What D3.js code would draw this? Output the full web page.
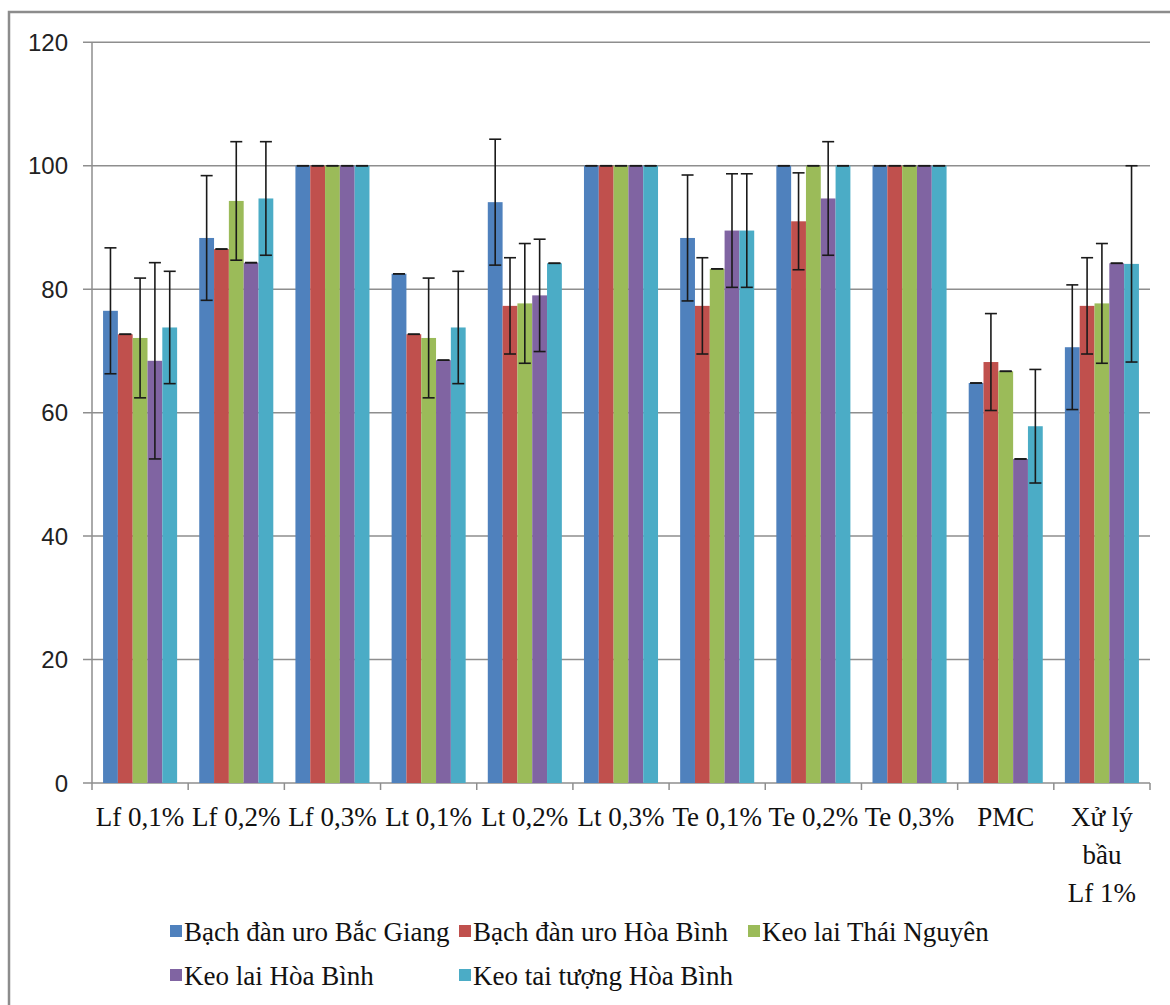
<!DOCTYPE html>
<html>
<head>
<meta charset="utf-8">
<script src="https://cdn.jsdelivr.net/npm/d3@7"></script>
<style>
  body { margin: 0; background: #fff; }
  svg { display: block; }
</style>
</head>
<body>
<svg id="chart" width="1170" height="1005"></svg>
<script>
// categories (x axis), multi-line labels split by "|"
const categories = ["Lf 0,1%", "Lf 0,2%", "Lf 0,3%", "Lt 0,1%", "Lt 0,2%", "Lt 0,3%",
    "Te 0,1%", "Te 0,2%", "Te 0,3%", "PMC", "Xử lý|bầu|Lf 1%"];

const seriesNames = ["Bạch đàn uro Bắc Giang", "Bạch đàn uro Hòa Bình", "Keo lai Thái Nguyên",
    "Keo lai Hòa Bình", "Keo tai tượng Hòa Bình"];
const seriesColors = ["#4f81bd", "#c0504d", "#9bbb59", "#8064a2", "#4bacc6"];

// values per series (one per category)
const bacGiangVals = [76.5, 88.3, 100, 82.5, 94.1, 100, 88.3, 100, 100, 64.8, 70.6];
const hoaBinhUroVals = [72.7, 86.5, 100, 72.7, 77.3, 100, 77.3, 91.0, 100, 68.2, 77.3];
const thaiNguyenVals = [72.1, 94.3, 100, 72.1, 77.7, 100, 83.3, 100, 100, 66.7, 77.7];
const keoLaiHBVals = [68.4, 84.3, 100, 68.5, 79.0, 100, 89.5, 94.7, 100, 52.5, 84.2];
const keoTaiTuongVals = [73.8, 94.7, 100, 73.8, 84.2, 100, 89.5, 100, 100, 57.8, 84.1];

// error (+/-) per series
const bacGiangErr = [10.2, 10.1, 0, 0, 10.2, 0, 10.2, 0, 0, 0, 10.1];
const hoaBinhUroErr = [0, 0, 0, 0, 7.8, 0, 7.8, 7.85, 0, 7.85, 7.8];
const thaiNguyenErr = [9.7, 9.6, 0, 9.7, 9.7, 0, 0, 0, 0, 0, 9.7];
const keoLaiHBErr = [15.9, 0, 0, 0, 9.1, 0, 9.2, 9.2, 0, 0, 0];
const keoTaiTuongErr = [9.1, 9.2, 0, 9.1, 0, 0, 9.2, 0, 0, 9.2, 15.9];

const yTicks = [0, 20, 40, 60, 80, 100, 120];

const allVals = [bacGiangVals, hoaBinhUroVals, thaiNguyenVals, keoLaiHBVals, keoTaiTuongVals];
const allErr = [bacGiangErr, hoaBinhUroErr, thaiNguyenErr, keoLaiHBErr, keoTaiTuongErr];

const svg = d3.select("#chart");

// outer chart border (only top/left visible in the crop)
svg.append("rect")
    .attr("x", 9).attr("y", 12)
    .attr("width", 1200).attr("height", 1100)
    .attr("fill", "#fff")
    .attr("stroke", "#8c8c8c")
    .attr("stroke-width", 2.5);

const margin = { left: 92, right: 20, top: 42.3, bottom: 222 };
const plotW = 1150 - margin.left;
const plotH = 783 - margin.top;

const g = svg.append("g")
    .attr("transform", `translate(${margin.left}, ${margin.top})`);

const x0 = d3.scaleBand().domain(categories).range([0, plotW]).paddingInner(0.23).paddingOuter(0.115);
const x1 = d3.scaleBand().domain(d3.range(seriesNames.length)).range([0, x0.bandwidth()]);
const y = d3.scaleLinear().domain([0, 120]).range([plotH, 0]);

// gridlines
g.append("g")
    .selectAll("line")
    .data(yTicks)
    .join("line")
    .attr("x1", -9)
    .attr("x2", plotW)
    .attr("y1", (d) => y(d))
    .attr("y2", (d) => y(d))
    .attr("stroke", "#8e8e8e")
    .attr("stroke-width", 1.5);

// y axis line
g.append("line")
    .attr("x1", 0).attr("x2", 0)
    .attr("y1", 0).attr("y2", plotH)
    .attr("stroke", "#8e8e8e")
    .attr("stroke-width", 1.5);

// y tick labels
g.append("g")
    .selectAll("text")
    .data(yTicks)
    .join("text")
    .attr("x", -24)
    .attr("y", (d) => y(d))
    .attr("dy", "0.36em")
    .attr("text-anchor", "end")
    .attr("font-family", "'Liberation Sans', Arial, sans-serif")
    .attr("font-size", 24)
    .attr("fill", "#222")
    .text((d) => d);

// x axis ticks at category boundaries
const step = plotW / categories.length;
g.append("g")
    .selectAll("line")
    .data(d3.range(categories.length + 1))
    .join("line")
    .attr("x1", (i) => i * step)
    .attr("x2", (i) => i * step)
    .attr("y1", plotH)
    .attr("y2", plotH + 7)
    .attr("stroke", "#8e8e8e")
    .attr("stroke-width", 1.5);

// bars
const groups = g.append("g")
    .selectAll("g")
    .data(categories)
    .join("g")
    .attr("transform", (d) => `translate(${x0(d)}, 0)`);

groups.each(function (cat, ci) {
    const grp = d3.select(this);
    const rows = allVals.map((vals, si) => ({ si: si, v: vals[ci], e: allErr[si][ci] }));

    grp.selectAll("rect")
        .data(rows)
        .join("rect")
        .attr("x", (d) => x1(d.si))
        .attr("y", (d) => y(d.v))
        .attr("width", x1.bandwidth())
        .attr("height", (d) => plotH - y(d.v))
        .attr("fill", (d) => seriesColors[d.si]);

    // error bars
    const eb = grp.selectAll("g.err")
        .data(rows)
        .join("g")
        .attr("class", "err")
        .attr("stroke", "#1a1a1a")
        .attr("stroke-width", 1.6);
    eb.append("line")
        .attr("x1", (d) => x1(d.si) + x1.bandwidth() / 2)
        .attr("x2", (d) => x1(d.si) + x1.bandwidth() / 2)
        .attr("y1", (d) => y(d.v + d.e))
        .attr("y2", (d) => y(d.v - d.e));
    eb.append("line")
        .attr("x1", (d) => x1(d.si) + x1.bandwidth() / 2 - 6)
        .attr("x2", (d) => x1(d.si) + x1.bandwidth() / 2 + 6)
        .attr("y1", (d) => y(d.v + d.e))
        .attr("y2", (d) => y(d.v + d.e));
    eb.append("line")
        .attr("x1", (d) => x1(d.si) + x1.bandwidth() / 2 - 6)
        .attr("x2", (d) => x1(d.si) + x1.bandwidth() / 2 + 6)
        .attr("y1", (d) => y(d.v - d.e))
        .attr("y2", (d) => y(d.v - d.e));
});

// x labels
const xl = g.append("g")
    .selectAll("text")
    .data(categories)
    .join("text")
    .attr("x", (d) => x0(d) + x0.bandwidth() / 2)
    .attr("y", plotH + 43)
    .attr("text-anchor", "middle")
    .attr("font-family", "'Liberation Serif', 'Times New Roman', serif")
    .attr("font-size", 27)
    .attr("fill", "#111");
xl.each(function (d) {
    const t = d3.select(this);
    d.split("|").forEach((part, i) => {
        t.append("tspan")
            .attr("x", x0(d) + x0.bandwidth() / 2)
            .attr("dy", i === 0 ? 0 : 38)
            .text(part);
    });
});

// legend
const legendCols = 3;
const colW = 289;
const legend = svg.append("g")
    .selectAll("g")
    .data(seriesNames)
    .join("g")
    .attr("transform", (d, i) => `translate(${170 + (i % legendCols) * colW}, ${925 + Math.floor(i / legendCols) * 44})`);
legend.append("rect")
    .attr("width", 12)
    .attr("height", 12)
    .attr("fill", (d, i) => seriesColors[i]);
legend.append("text")
    .attr("x", 14)
    .attr("y", 16)
    .attr("font-family", "'Liberation Serif', 'Times New Roman', serif")
    .attr("font-size", 27)
    .attr("fill", "#111")
    .text((d) => d);
</script>
</body>
</html>
